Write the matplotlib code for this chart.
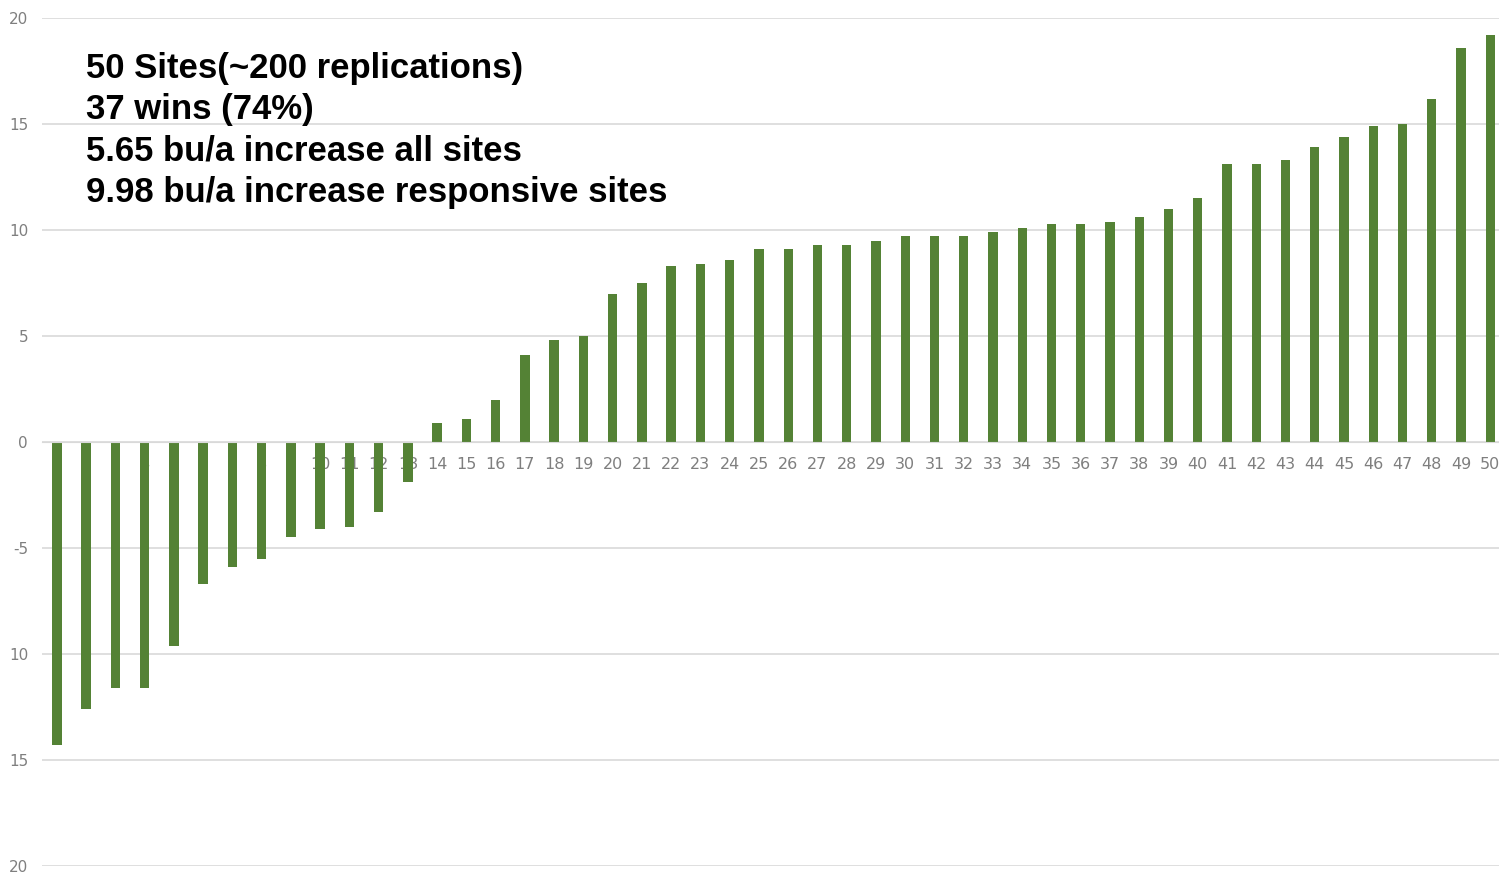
import matplotlib as mpl
mpl.use("Agg")
import matplotlib.pyplot as plt
import numpy as np

sites = list(range(1, 51))
diff = [-14.3, -12.6, -11.6, -11.6, -9.6, -6.7, -5.9, -5.5, -4.5, -4.1,
        -4.0, -3.3, -1.9, 0.9, 1.1, 2.0, 4.1, 4.8, 5.0, 7.0,
        7.5, 8.3, 8.4, 8.6, 9.1, 9.1, 9.3, 9.3, 9.5, 9.7,
        9.7, 9.7, 9.9, 10.1, 10.3, 10.3, 10.4, 10.6, 11.0, 11.5,
        13.1, 13.1, 13.3, 13.9, 14.4, 14.9, 15.0, 16.2, 18.6, 19.2]
yticks = [20, 15, 10, 5, 0, -5, -10, -15, -20]
ytick_labels = ["20", "15", "10", "5", "0", "-5", "10", "15", "20"]  # minus signs clipped in the original
notes = ["50 Sites(~200 replications)",
         "37 wins (74%)",
         "5.65 bu/a increase all sites",
         "9.98 bu/a increase responsive sites"]

fig = plt.figure(figsize=(14.99, 8.73), dpi=100)
ax = fig.add_axes([0.028, 0.008, 0.972, 0.9714])

ax.bar(sites, diff, width=0.32, color="#548235", zorder=2)

ax.set_xlim(0.49, 50.3)
ax.set_ylim(-20, 20)
ax.set_yticks(yticks)
ax.set_yticklabels(ytick_labels)
ax.grid(axis="y", color="#d9d9d9", linewidth=1.2)
ax.set_axisbelow(True)

# category axis crosses at zero, labels sit under the zero line
ax.spines["bottom"].set_position(("data", 0))
ax.spines["bottom"].set_color("#d9d9d9")
for s in ["top", "right", "left"]:
    ax.spines[s].set_visible(False)
ax.set_xticks(sites)
ax.set_xticklabels([str(s) for s in sites])
ax.tick_params(axis="x", length=0, pad=11, labelsize=11.5, labelcolor="#7f7f7f")
ax.tick_params(axis="y", length=0, pad=10, labelsize=11, labelcolor="#7f7f7f")

for i, line in enumerate(notes):
    ax.text(0.030, 0.960 - i * 0.0488, line, transform=ax.transAxes,
            fontsize=25, fontweight="bold", family="Liberation Sans",
            va="top", ha="left", color="black")

plt.savefig("out.png", dpi=100)
